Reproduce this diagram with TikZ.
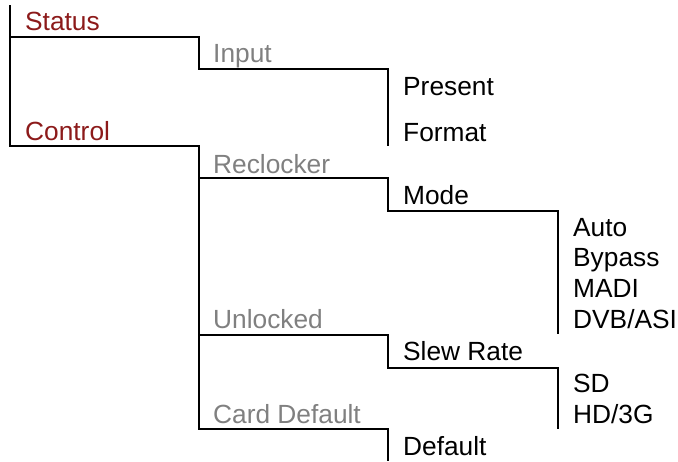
\documentclass[tikz,border=0pt]{standalone}
\usepackage{fontspec}
\setmainfont{Liberation Sans}
\usepackage{tikz}
\pgfdeclarelayer{edgelayer}
\pgfdeclarelayer{nodelayer}
\pgfsetlayers{edgelayer,nodelayer,main}
\definecolor{menured}{RGB}{140,26,26}
\definecolor{menugrey}{RGB}{128,128,128}
\tikzstyle{edge}=[draw=black, line width=2.6pt, line join=miter]
\tikzstyle{item}=[anchor=base west, inner sep=0pt, font=\fontsize{26.3pt}{30pt}\selectfont]
\tikzstyle{top}=[item, text=menured]
\tikzstyle{sub}=[item, text=menugrey]
\tikzstyle{leaf}=[item, text=black]

\begin{document}
\begin{tikzpicture}[x=1pt, y=-1pt]
				\useasboundingbox (0, 0) rectangle (678, 461);
				\begin{pgfonlayer}{nodelayer}
					\node [style=top] (status) at (25, 30) {Status};
					\node [style=top] (control) at (25, 140) {Control};
					\node [style=sub] (input) at (213, 62) {Input};
					\node [style=sub] (reclocker) at (213, 173) {Reclocker};
					\node [style=sub] (unlocked) at (213, 328) {Unlocked};
					\node [style=sub] (carddefault) at (213, 423) {Card Default};
					\node [style=leaf] (present) at (403, 95) {Present};
					\node [style=leaf] (format) at (403, 141) {Format};
					\node [style=leaf] (mode) at (403, 204) {Mode};
					\node [style=leaf] (slewrate) at (403, 360) {Slew Rate};
					\node [style=leaf] (default) at (403, 455) {Default};
					\node [style=leaf] (auto) at (573, 236) {Auto};
					\node [style=leaf] (bypass) at (573, 266) {Bypass};
					\node [style=leaf] (madi) at (573, 297) {MADI};
					\node [style=leaf] (dvbasi) at (573, 328) {DVB/ASI};
					\node [style=leaf] (sd) at (573, 392) {SD};
					\node [style=leaf] (hd) at (573, 423) {HD/3G};
				\end{pgfonlayer}
				\begin{pgfonlayer}{edgelayer}
					\coordinate (r0) at (10, 5);
					\coordinate (r0a) at (10, 37);
					\coordinate (r0b) at (10, 146);
					\coordinate (r1a) at (199, 69);
					\coordinate (r1b) at (199, 178);
					\coordinate (r1c) at (199, 335);
					\coordinate (r1d) at (199, 429);
					\coordinate (r2a) at (388, 146);
					\coordinate (r2b) at (388, 211);
					\coordinate (r2c) at (388, 368);
					\coordinate (r2d) at (388, 461);
					\coordinate (r3a) at (558, 334);
					\coordinate (r3b) at (558, 429);
					\draw [style=edge] (r0) -- (r0b) -| (r1d) -| (r2d);
					\draw [style=edge] (r0a) -| (r1a) -| (r2a);
					\draw [style=edge] (r1b) -| (r2b) -| (r3a);
					\draw [style=edge] (r1c) -| (r2c) -| (r3b);
				\end{pgfonlayer}
			\end{tikzpicture}
\end{document}
